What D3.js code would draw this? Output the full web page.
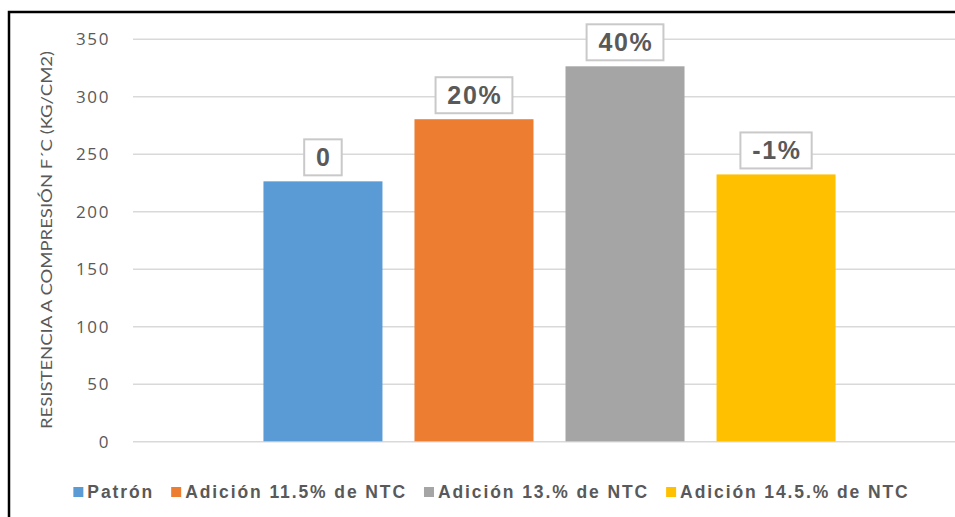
<!DOCTYPE html>
<html>
<head>
<meta charset="utf-8">
<script src="https://cdn.jsdelivr.net/npm/d3@7"></script>
<style>
  html, body { margin: 0; padding: 0; background: #fff; }
  svg { display: block; }
</style>
</head>
<body>
<svg id="chart" width="955" height="517"></svg>
<script>
// Compressive strength f'c by NTC addition
const series = ["Patrón", "Adición 11.5% de NTC", "Adición 13.% de NTC", "Adición 14.5.% de NTC"];
const values = [226, 280, 326, 232];
const changeLabels = ["0", "20%", "40%", "-1%"];
const colors = ["#5B9BD5", "#ED7D31", "#A5A5A5", "#FFC000"];
const yTicks = [0, 50, 100, 150, 200, 250, 300, 350];
const yTitle = "RESISTENCIA A COMPRESIÓN F´C (KG/CM2)";

const svg = d3.select("#chart");
const W = 955, H = 517;
const plot = { left: 133, right: 966, top: 38.7, bottom: 441.3 };
const textGray = "#595959";

svg.append("rect").attr("width", W).attr("height", H).attr("fill", "#fff");

// Chart frame (top and left edges)
svg.append("path")
  .attr("d", `M9,${H} V12 H${W}`)
  .attr("fill", "none")
  .attr("stroke", "#000")
  .attr("stroke-width", 2.5);

const y = d3.scaleLinear().domain([0, 350]).range([plot.bottom, plot.top]);

// One category band, split into one band per series
const cat = d3.scaleBand().domain(["f'c"]).range([plot.left, plot.right]).paddingOuter(0.228).paddingInner(0);
const x = d3.scaleBand().domain(series).range([cat("f'c"), cat("f'c") + cat.bandwidth()]).paddingInner(0.212).paddingOuter(0);

// Gridlines and tick labels
const axis = svg.append("g")
  .attr("transform", `translate(${plot.left},0)`)
  .call(d3.axisLeft(y).tickValues(yTicks).tickSize(-(plot.right - plot.left)).tickPadding(23).tickFormat(d3.format("d")));
axis.select(".domain").remove();
axis.selectAll(".tick line").attr("stroke", "#D9D9D9").attr("stroke-width", 1.6);
axis.selectAll(".tick text")
  .attr("fill", textGray)
  .attr("font-family", "'Open Sans', sans-serif")
  .attr("font-size", 17)
  .attr("letter-spacing", 1.6)
  .attr("dy", "0.36em");

// Axis title
svg.append("text")
  .attr("transform", `translate(52,240) rotate(-90)`)
  .attr("text-anchor", "middle")
  .attr("fill", textGray)
  .attr("font-family", "Lato, 'Liberation Sans', sans-serif")
  .attr("font-weight", 400)
  .attr("font-size", 16)
  .attr("textLength", 378)
  .attr("lengthAdjust", "spacingAndGlyphs")
  .text(yTitle);

// Bars
svg.append("g").selectAll("rect")
  .data(series)
  .join("rect")
  .attr("x", d => x(d))
  .attr("width", x.bandwidth())
  .attr("y", (d, i) => y(values[i]))
  .attr("height", (d, i) => y(0) - y(values[i]))
  .attr("fill", (d, i) => colors[i]);

// Boxed change labels above each bar
const lab = svg.append("g").selectAll("g")
  .data(series)
  .join("g")
  .attr("transform", (d, i) => `translate(${x(d) + x.bandwidth() / 2},${y(values[i]) - 6 - 18})`);

lab.append("rect").attr("class", "box");
lab.append("text")
  .attr("text-anchor", "middle")
  .attr("dy", "0.36em")
  .attr("fill", textGray)
  .attr("font-family", "'Liberation Sans', Arial, sans-serif")
  .attr("font-weight", "bold")
  .attr("font-size", 25)
  .attr("letter-spacing", 1.6)
  .text((d, i) => changeLabels[i]);

lab.each(function () {
  const g = d3.select(this);
  const t = g.select("text").node();
  const w = t.getBBox().width + 22;
  g.select("text").attr("x", 0.8);
  g.select("rect")
    .attr("x", -w / 2)
    .attr("y", -18)
    .attr("width", w)
    .attr("height", 36)
    .attr("fill", "#fff")
    .attr("stroke", "#C9C9C9")
    .attr("stroke-width", 2);
});

// Legend
const legend = svg.append("g").attr("transform", "translate(0,492)");
const items = legend.selectAll("g").data(series).join("g");
items.append("rect")
  .attr("width", 10).attr("height", 10).attr("y", -5)
  .attr("fill", (d, i) => colors[i]);
items.append("text")
  .attr("x", 14)
  .attr("dy", "0.36em")
  .attr("fill", textGray)
  .attr("font-family", "'Liberation Sans', Arial, sans-serif")
  .attr("font-weight", "bold")
  .attr("font-size", 17.5)
  .attr("letter-spacing", 1.9)
  .text(d => d);

const widths = [];
items.each(function () { widths.push(14 + d3.select(this).select("text").node().getComputedTextLength()); });
const gap = 17;
const total = d3.sum(widths) + gap * (widths.length - 1);
let cx = 491.5 - total / 2;
items.attr("transform", (d, i) => {
  const t = `translate(${cx},0)`;
  cx += widths[i] + gap;
  return t;
});
</script>
</body>
</html>
